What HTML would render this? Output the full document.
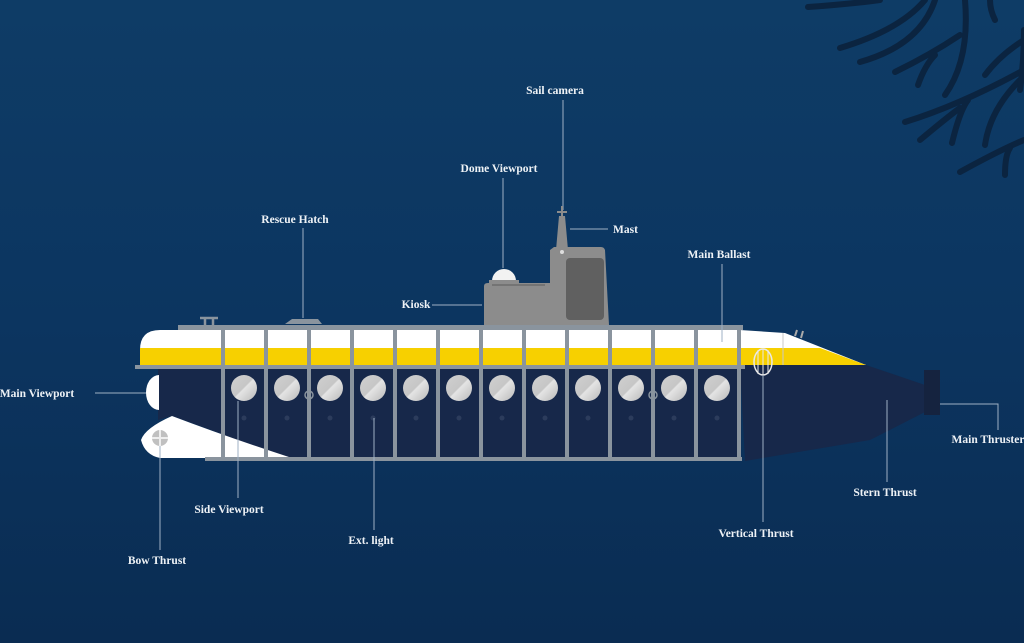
<!DOCTYPE html>
<html><head><meta charset="utf-8"><style>
html,body{margin:0;padding:0;width:1024px;height:643px;overflow:hidden;background:#0c3560}
svg{display:block}
text{font-family:"Liberation Serif",serif;font-size:11.5px;fill:#eef2f6;font-weight:bold}
</style></head><body>
<svg width="1024" height="643" viewBox="0 0 1024 643" xmlns="http://www.w3.org/2000/svg">
<defs>
<linearGradient id="bg" x1="0" y1="0" x2="0" y2="1">
<stop offset="0" stop-color="#0e3c66"/><stop offset="0.5" stop-color="#0c3560"/><stop offset="1" stop-color="#0a2c52"/>
</linearGradient>
<linearGradient id="port" x1="0" y1="0" x2="1" y2="1">
<stop offset="0" stop-color="#d0d0d0"/><stop offset="0.48" stop-color="#c6c6c6"/><stop offset="0.52" stop-color="#e4e4e4"/><stop offset="1" stop-color="#b8b8b8"/>
</linearGradient>
</defs>
<rect width="1024" height="643" fill="url(#bg)"/>
<g stroke="#0b2440" stroke-width="6" fill="none" stroke-linecap="round">
<path d="M808 7 Q850 4 880 0"/>
<path d="M840 48 Q900 30 925 0"/>
<path d="M860 62 Q920 45 935 0"/>
<path d="M895 72 Q930 55 960 35"/>
<path d="M918 85 Q925 65 935 55"/>
<path d="M945 95 Q970 60 965 0"/>
<path d="M995 20 Q990 10 990 0"/>
<path d="M905 122 Q960 105 1024 70"/>
<path d="M920 140 Q950 115 960 108"/>
<path d="M952 143 Q960 110 968 100"/>
<path d="M985 145 Q990 110 1020 80"/>
<path d="M985 75 Q1000 55 1024 40"/>
<path d="M960 172 Q1000 150 1024 140"/>
<path d="M1005 175 Q1005 155 1010 148"/>
<path d="M1020 90 Q1024 60 1024 30"/>
</g>
<g stroke="#9fb0c4" stroke-width="1" fill="none">
<path d="M563 100V210"/><path d="M503 178V268"/><path d="M570 229H608"/>
<path d="M303 228V318"/><path d="M432 305H482"/>
<path d="M95 393H146"/>
</g>
<path d="M484 325V286Q484 283 488 283H550V250L554 247H601Q604 247 605 250L609 325Z" fill="#8c8c8c"/>
<rect x="566" y="258" width="38" height="62" rx="4" fill="#606060"/>
<path d="M492 285H545" stroke="#6d6d6d" stroke-width="1.5"/>
<path d="M556 250L559 216H565L568 250Z" fill="#8c8c8c"/>
<path d="M562 206V220M557 212H567" stroke="#8c8c8c" stroke-width="2"/>
<circle cx="562" cy="252" r="2" fill="#ddd"/>
<path d="M492 281A12 12 0 0 1 516 281Z" fill="#f2f2f2"/>
<rect x="489" y="280" width="30" height="3" fill="#8c8c8c"/>
<path d="M740 365H866L925 385V412L870 440L745 461Z" fill="#17284a"/>
<rect x="924" y="370" width="16" height="45" fill="#15233f"/>
<path d="M740 330L785 333L866 365H740Z" fill="#ffffff"/>
<path d="M740 348H820L866 365H740Z" fill="#f7d000"/>
<path d="M783 333V365" stroke="#c8c8c8" stroke-width="1"/>
<path d="M795 336L797 330M801 338L803 331" stroke="#aaa" stroke-width="2"/>
<path d="M160 330H740V365H140V350Q140 330 160 330Z" fill="#ffffff"/>
<path d="M140 348H740V365H140Z" fill="#f7d000"/>
<rect x="178" y="325" width="565" height="5" fill="#8a949e"/>
<path d="M205 325V318M213 325V318M200 318H218" stroke="#8a949e" stroke-width="2.5"/>
<path d="M285 324L292 319H318L322 324Z" fill="#8a949e"/>
<path d="M158 369H740V461H290Q240 440 172 416L158 420Z" fill="#17284a"/>
<path d="M172 416Q230 438 292 458H160Q145 455 141 440Q145 428 172 416Z" fill="#ffffff"/>
<circle cx="160" cy="438" r="8" fill="#c0c0c0"/>
<path d="M152 438H168M160 430V446" stroke="#eee" stroke-width="2"/>
<path d="M159 375A13 17.5 0 0 0 159 410Z" fill="#ffffff"/>
<rect x="135" y="365" width="610" height="4" fill="#8a949e"/>
<rect x="205" y="457" width="537" height="4" fill="#8a949e"/>
<g fill="#8a949e">
<rect x="221" y="327" width="4" height="130"/><rect x="264" y="327" width="4" height="130"/>
<rect x="307" y="327" width="4" height="130"/><rect x="350" y="327" width="4" height="130"/>
<rect x="393" y="327" width="4" height="130"/><rect x="436" y="327" width="4" height="130"/>
<rect x="479" y="327" width="4" height="130"/><rect x="522" y="327" width="4" height="130"/>
<rect x="565" y="327" width="4" height="130"/><rect x="608" y="327" width="4" height="130"/>
<rect x="651" y="327" width="4" height="130"/><rect x="694" y="327" width="4" height="130"/>
<rect x="737" y="327" width="4" height="134"/>
</g>
<g fill="url(#port)">
<circle cx="244" cy="388" r="13"/><circle cx="287" cy="388" r="13"/><circle cx="330" cy="388" r="13"/>
<circle cx="373" cy="388" r="13"/><circle cx="416" cy="388" r="13"/><circle cx="459" cy="388" r="13"/>
<circle cx="502" cy="388" r="13"/><circle cx="545" cy="388" r="13"/><circle cx="588" cy="388" r="13"/>
<circle cx="631" cy="388" r="13"/><circle cx="674" cy="388" r="13"/><circle cx="717" cy="388" r="13"/>
</g>
<g fill="none" stroke="#8a949e" stroke-width="1.5">
<circle cx="309" cy="395" r="4"/><circle cx="653" cy="395" r="4"/>
</g>
<g fill="#2c3c5c">
<circle cx="244" cy="418" r="2.5"/><circle cx="287" cy="418" r="2.5"/><circle cx="330" cy="418" r="2.5"/>
<circle cx="373" cy="418" r="2.5"/><circle cx="416" cy="418" r="2.5"/><circle cx="459" cy="418" r="2.5"/>
<circle cx="502" cy="418" r="2.5"/><circle cx="545" cy="418" r="2.5"/><circle cx="588" cy="418" r="2.5"/>
<circle cx="631" cy="418" r="2.5"/><circle cx="674" cy="418" r="2.5"/><circle cx="717" cy="418" r="2.5"/>
</g>
<ellipse cx="763" cy="362" rx="9" ry="13" fill="none" stroke="#e8e8e8" stroke-width="1.5"/>
<path d="M758 350V374M763 349V375M768 350V374" stroke="#e8e8e8" stroke-width="1"/>
<g stroke="#9fb0c4" stroke-width="1" fill="none">
<path d="M722 264V342"/><path d="M940 404H998V430"/><path d="M887 400V482"/>
<path d="M763 375V522"/><path d="M238 401V498"/><path d="M374 418V530"/><path d="M160 446V550"/>
</g>
<text x="555" y="94" text-anchor="middle">Sail camera</text>
<text x="499" y="172" text-anchor="middle">Dome Viewport</text>
<text x="613" y="233">Mast</text>
<text x="295" y="223" text-anchor="middle">Rescue Hatch</text>
<text x="719" y="258" text-anchor="middle">Main Ballast</text>
<text x="416" y="308" text-anchor="middle">Kiosk</text>
<text x="37" y="397" text-anchor="middle">Main Viewport</text>
<text x="988" y="443" text-anchor="middle">Main Thruster</text>
<text x="885" y="496" text-anchor="middle">Stern Thrust</text>
<text x="756" y="537" text-anchor="middle">Vertical Thrust</text>
<text x="229" y="513" text-anchor="middle">Side Viewport</text>
<text x="371" y="544" text-anchor="middle">Ext. light</text>
<text x="157" y="564" text-anchor="middle">Bow Thrust</text>
</svg>
</body></html>
